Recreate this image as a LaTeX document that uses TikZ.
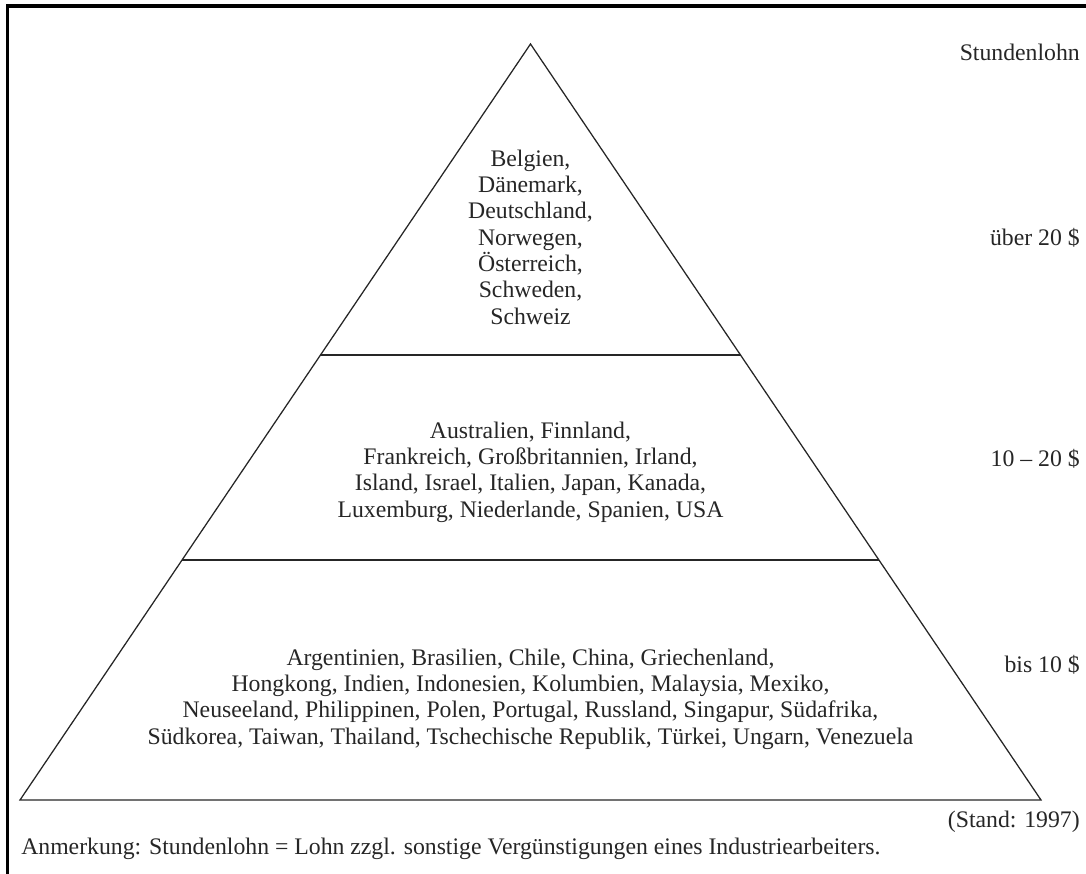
\documentclass[tikz,border=0pt]{standalone}
\usepackage{fontspec}
\setmainfont{Liberation Serif}
\usetikzlibrary{calc}
\begin{document}
\begin{tikzpicture}[x=0.75pt,y=-0.75pt,
  lbl/.style={inner sep=0pt,font=\fontsize{17.8}{19.75}\selectfont,text=black!85},
  blk/.style={lbl,align=center},
  frame/.style={line width=2.3pt},
  edge/.style={line width=0.95pt,black!85},
  thick divider/.style={line width=1.8pt,black!85}]
\useasboundingbox (0,0) rectangle (1086,874);
% frame (top and left)
\coordinate (fTR) at (1086,6);
\coordinate (fTL) at (7.5,6);
\coordinate (fBL) at (7.5,874);
\draw[frame] (fTR) -- (fTL) -- (fBL);
% triangle
\coordinate (apex) at (530.5,44);
\coordinate (bl) at (20,800);
\coordinate (br) at (1041,800);
\draw[edge,line join=miter] (apex) -- (br) -- (bl) -- cycle;
% dividers
\coordinate (d1l) at ($(apex)!0.4114!(bl)$);
\coordinate (d1r) at ($(apex)!0.4114!(br)$);
\coordinate (d2l) at ($(apex)!0.6825!(bl)$);
\coordinate (d2r) at ($(apex)!0.6825!(br)$);
\draw[edge] (d1l) -- (d1r);
\draw[thick divider] (d2l) -- (d2r);
% block texts
\node[blk] (top) at (530.5,237) {Belgien,\\Dänemark,\\Deutschland,\\Norwegen,\\Österreich,\\Schweden,\\Schweiz};
\node[blk] (mid) at (530.5,472) {Australien, Finnland,\\Frankreich, Großbritannien, Irland,\\Island, Israel, Italien, Japan, Kanada,\\Luxemburg, Niederlande, Spanien, USA};
\node[blk] (low) at (530.5,699) {Argentinien, Brasilien, Chile, China, Griechenland,\\Hongkong, Indien, Indonesien, Kolumbien, Malaysia, Mexiko,\\Neuseeland, Philippinen, Polen, Portugal, Russland, Singapur, Südafrika,\\Südkorea, Taiwan, Thailand, Tschechische Republik, Türkei, Ungarn, Venezuela};
% right labels
\node[lbl,anchor=east] (hdr) at (1080,52) {Stundenlohn};
\node[lbl,anchor=east] (l1) at (1080,238) {über 20 \$};
\node[lbl,anchor=east] (l2) at (1080,459) {10 – 20 \$};
\node[lbl,anchor=east] (l3) at (1080,665) {bis 10 \$};
\node[lbl,anchor=east] (stand) at (1080,822) {(Stand: 1997)};
\node[lbl,anchor=west] (note) at (21,849) {Anmerkung: Stundenlohn = Lohn zzgl. sonstige Vergünstigungen eines Industriearbeiters.};
\end{tikzpicture}
\end{document}
